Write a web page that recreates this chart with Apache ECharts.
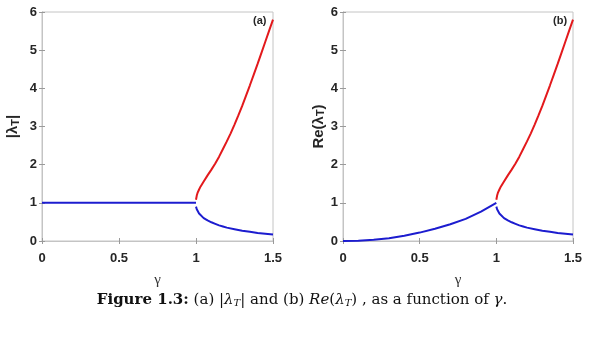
<!DOCTYPE html>
<html>
<head>
<meta charset="utf-8">
<script src="https://cdn.jsdelivr.net/npm/echarts@6/dist/echarts.min.js"></script>
<style>
html,body{margin:0;padding:0;background:#fff;}
#c{width:605px;height:349px;}
</style>
</head>
<body>
<div id="c"></div>
<script>
// gamma tick labels
const xTicks = [0, 0.5, 1, 1.5];
const yTicks = [0, 1, 2, 3, 4, 5, 6];

// (a) |lambda_T| : flat branch for gamma <= 1
const flatGamma = [0, 1];
const flatVals  = [1, 1];

// (b) Re(lambda_T) : rising branch for gamma <= 1
const riseGamma = [0, 0.1, 0.2, 0.3, 0.4, 0.5, 0.6, 0.7, 0.8, 0.9, 1.0];
const riseVals  = [0, 0.005, 0.03, 0.07, 0.14, 0.22, 0.32, 0.44, 0.58, 0.77, 1.0];

// gamma > 1 : upper (red) branch
const upGamma = [1.0, 1.005, 1.01, 1.02, 1.03, 1.05, 1.075, 1.1, 1.125, 1.15, 1.175, 1.2, 1.225, 1.25, 1.275, 1.3, 1.325, 1.35, 1.375, 1.4, 1.425, 1.45, 1.475, 1.5];
const upVals  = [1.08, 1.19, 1.26, 1.35, 1.43, 1.56, 1.72, 1.87, 2.03, 2.21, 2.41, 2.61, 2.82, 3.05, 3.29, 3.54, 3.81, 4.08, 4.36, 4.64, 4.93, 5.22, 5.51, 5.8];

// gamma > 1 : lower (blue) branch
const lowGamma = [1.0, 1.005, 1.01, 1.02, 1.03, 1.05, 1.075, 1.1, 1.125, 1.15, 1.175, 1.2, 1.25, 1.3, 1.35, 1.4, 1.45, 1.5];
const lowVals  = [0.9, 0.83, 0.78, 0.72, 0.67, 0.6, 0.54, 0.49, 0.45, 0.41, 0.38, 0.35, 0.31, 0.27, 0.24, 0.21, 0.19, 0.17];

const pairs = (xs, ys) => xs.map((x, i) => [x, ys[i]]);

const RED = '#e3191c';
const BLUE = '#1c1ccf';
const FRAME = '#c4c4c4';
const TXT = '#262626';
const SANS = 'Liberation Sans, Arial, sans-serif';

function xAx(grid, top) {
  return {
    type: 'value', gridIndex: grid, min: 0, max: 1.5, interval: 0.5,
    position: top ? 'top' : 'bottom',
    axisLine: { show: true, lineStyle: { color: FRAME, width: 1 } },
    axisTick: { show: true, inside: true, length: 3, lineStyle: { color: '#9a9a9a' } },
    axisLabel: top ? { show: false } : {
      show: true, color: TXT, fontFamily: SANS,
      fontWeight: 'bold', fontSize: 13, margin: 11,
      formatter: v => xTicks.includes(v) ? String(v) : ''
    },
    splitLine: { show: false },
    name: top ? '' : 'γ',
    nameLocation: 'middle', nameGap: 32,
    nameTextStyle: { color: '#333', fontFamily: 'Liberation Serif, Times New Roman, serif', fontSize: 15 }
  };
}
function yAx(grid, right, nameRich, gap) {
  return {
    type: 'value', gridIndex: grid, min: 0, max: 6, interval: 1,
    position: right ? 'right' : 'left',
    axisLine: { show: true, lineStyle: { color: FRAME, width: 1 } },
    axisTick: { show: true, inside: true, length: 3, lineStyle: { color: '#9a9a9a' } },
    axisLabel: right ? { show: false } : {
      show: true, color: TXT, fontFamily: SANS,
      fontWeight: 'bold', fontSize: 13, margin: 5,
      formatter: v => yTicks.includes(v) ? String(v) : ''
    },
    splitLine: { show: false },
    name: right ? '' : nameRich,
    nameLocation: 'middle', nameGap: gap, nameRotate: 90,
    nameTextStyle: {
      color: TXT, fontFamily: SANS, fontWeight: 'bold', fontSize: 15,
      rich: {
        n: { color: TXT, fontFamily: SANS, fontWeight: 'bold', fontSize: 15 },
        s: { color: TXT, fontFamily: SANS, fontWeight: 'bold', fontSize: 11, verticalAlign: 'bottom', padding: [6, 0, 0, 0] }
      }
    }
  };
}

function line(xi, yi, data, color) {
  return {
    type: 'line', xAxisIndex: xi, yAxisIndex: yi, data: data,
    showSymbol: false, symbol: 'none', smooth: false, silent: true,
    lineStyle: { color: color, width: 2 }, animation: false
  };
}

const chart = echarts.init(document.getElementById('c'), null, { renderer: 'canvas' });
chart.setOption({
  backgroundColor: '#ffffff',
  animation: false,
  grid: [
    { left: 42, top: 12, width: 231, height: 229, show: true, borderColor: FRAME, borderWidth: 1, backgroundColor: 'transparent' },
    { left: 343, top: 12, width: 230, height: 229, show: true, borderColor: FRAME, borderWidth: 1, backgroundColor: 'transparent' }
  ],
  xAxis: [xAx(0, false), xAx(0, true), xAx(1, false), xAx(1, true)],
  yAxis: [
    yAx(0, false, '{n||λ}{s|T}{n||}', 21),
    yAx(0, true, '', 0),
    yAx(1, false, '{n|Re(λ}{s|T}{n|)}', 16),
    yAx(1, true, '', 0)
  ],
  series: [
    line(0, 0, pairs(flatGamma, flatVals), BLUE),
    line(0, 0, pairs(lowGamma, lowVals), BLUE),
    line(0, 0, pairs(upGamma, upVals), RED),
    line(2, 2, pairs(riseGamma, riseVals), BLUE),
    line(2, 2, pairs(lowGamma, lowVals), BLUE),
    line(2, 2, pairs(upGamma, upVals), RED)
  ],
  graphic: [
    { type: 'text', left: 253, top: 15, style: { text: '(a)', fill: TXT, font: 'bold 11px Liberation Sans, Arial, sans-serif' } },
    { type: 'text', left: 553, top: 15, style: { text: '(b)', fill: TXT, font: 'bold 11px Liberation Sans, Arial, sans-serif' } },
    {
      type: 'text', x: 302, y: 300,
      style: {
        text: '{b|Figure 1.3:}{r| (a) |}{i|λ}{s|T}{r|| and (b) }{i|Re}{r|(}{i|λ}{s|T}{r|) , as a function of }{i|γ}{r|.}',
        align: 'center', verticalAlign: 'middle',
        rich: {
          b: { fontFamily: 'DejaVu Serif, serif', fontWeight: 'bold', fontSize: 15, fill: '#111' },
          r: { fontFamily: 'DejaVu Serif, serif', fontSize: 15, fill: '#111' },
          i: { fontFamily: 'DejaVu Serif, serif', fontStyle: 'italic', fontSize: 15, fill: '#111' },
          s: { fontFamily: 'DejaVu Serif, serif', fontStyle: 'italic', fontSize: 10, fill: '#111', verticalAlign: 'bottom', padding: [6, 0, 0, 0] }
        }
      }
    }
  ]
});
</script>
</body>
</html>
